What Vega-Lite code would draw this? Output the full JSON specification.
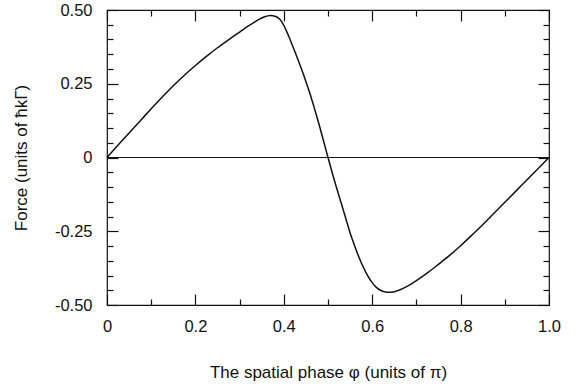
{
  "$schema": "https://vega.github.io/schema/vega-lite/v6.json",
  "width": 442,
  "height": 295,
  "autosize": "none",
  "padding": {"left": 107, "top": 10, "right": 28, "bottom": 83},
  "background": "white",
  "config": {
    "view": {"stroke": "#111", "strokeWidth": 1.2},
    "axis": {
      "labelFont": "Liberation Sans",
      "titleFont": "Liberation Sans",
      "labelFontSize": 16.5,
      "titleFontSize": 17,
      "titleFontWeight": "normal",
      "labelColor": "#111",
      "titleColor": "#111",
      "tickColor": "#111",
      "domain": false,
      "grid": false,
      "tickWidth": 1.2
    }
  },
  "datasets": {
    "zero": [{"phi": 0, "F": 0}, {"phi": 1, "F": 0}],
    "force": [
      {"phi": 0, "F": 0},
      {"phi": 0.025, "F": 0.042},
      {"phi": 0.05, "F": 0.083},
      {"phi": 0.075, "F": 0.124},
      {"phi": 0.1, "F": 0.165},
      {"phi": 0.125, "F": 0.205},
      {"phi": 0.15, "F": 0.243},
      {"phi": 0.175, "F": 0.279},
      {"phi": 0.2, "F": 0.312},
      {"phi": 0.225, "F": 0.343},
      {"phi": 0.25, "F": 0.372},
      {"phi": 0.275, "F": 0.399},
      {"phi": 0.3, "F": 0.425},
      {"phi": 0.32, "F": 0.446},
      {"phi": 0.34, "F": 0.465},
      {"phi": 0.355, "F": 0.476},
      {"phi": 0.37, "F": 0.481},
      {"phi": 0.38, "F": 0.479},
      {"phi": 0.39, "F": 0.47},
      {"phi": 0.4, "F": 0.448},
      {"phi": 0.41, "F": 0.415},
      {"phi": 0.42, "F": 0.378},
      {"phi": 0.43, "F": 0.34},
      {"phi": 0.44, "F": 0.3},
      {"phi": 0.45, "F": 0.258},
      {"phi": 0.46, "F": 0.213},
      {"phi": 0.47, "F": 0.163},
      {"phi": 0.48, "F": 0.111},
      {"phi": 0.49, "F": 0.056},
      {"phi": 0.5, "F": 0.0},
      {"phi": 0.51, "F": -0.054},
      {"phi": 0.52, "F": -0.106},
      {"phi": 0.53, "F": -0.155},
      {"phi": 0.54, "F": -0.205},
      {"phi": 0.55, "F": -0.256},
      {"phi": 0.56, "F": -0.298},
      {"phi": 0.57, "F": -0.338},
      {"phi": 0.58, "F": -0.372},
      {"phi": 0.59, "F": -0.401},
      {"phi": 0.6, "F": -0.424},
      {"phi": 0.61, "F": -0.441},
      {"phi": 0.62, "F": -0.451},
      {"phi": 0.63, "F": -0.456},
      {"phi": 0.64, "F": -0.457},
      {"phi": 0.65, "F": -0.455},
      {"phi": 0.66, "F": -0.45},
      {"phi": 0.68, "F": -0.436},
      {"phi": 0.7, "F": -0.417},
      {"phi": 0.725, "F": -0.391},
      {"phi": 0.75, "F": -0.362},
      {"phi": 0.775, "F": -0.332},
      {"phi": 0.8, "F": -0.299},
      {"phi": 0.825, "F": -0.264},
      {"phi": 0.85, "F": -0.228},
      {"phi": 0.875, "F": -0.19},
      {"phi": 0.9, "F": -0.152},
      {"phi": 0.925, "F": -0.114},
      {"phi": 0.95, "F": -0.076},
      {"phi": 0.975, "F": -0.038},
      {"phi": 1.0, "F": 0}
    ]
  },
  "layer": [
    {
      "data": {"name": "zero"},
      "mark": {"type": "line", "color": "#111", "strokeWidth": 1.2},
      "encoding": {
        "x": {
          "field": "phi", "type": "quantitative",
          "scale": {"domain": [0, 1], "nice": false, "zero": false},
          "axis": {
            "orient": "top", "title": null, "labels": false,
            "values": [0, 0.1, 0.2, 0.3, 0.4, 0.5, 0.6, 0.7, 0.8, 0.9, 1.0],
            "tickSize": {"condition": {"test": "abs(datum.value*5 - round(datum.value*5)) < 0.001", "value": -11}, "value": -6}
          }
        },
        "y": {
          "field": "F", "type": "quantitative",
          "scale": {"domain": [-0.5, 0.5], "nice": false, "zero": false},
          "axis": {
            "orient": "right", "title": null, "labels": false,
            "values": [-0.5, -0.45, -0.4, -0.35, -0.3, -0.25, -0.2, -0.15, -0.1, -0.05, 0, 0.05, 0.1, 0.15, 0.2, 0.25, 0.3, 0.35, 0.4, 0.45, 0.5],
            "tickSize": {"condition": {"test": "abs(datum.value*4 - round(datum.value*4)) < 0.001", "value": -11}, "value": -6}
          }
        }
      }
    },
    {
      "data": {"name": "force"},
      "mark": {"type": "line", "color": "#111", "strokeWidth": 1.5, "interpolate": "monotone"},
      "encoding": {
        "x": {
          "field": "phi", "type": "quantitative",
          "scale": {"domain": [0, 1], "nice": false, "zero": false},
          "axis": {
            "orient": "bottom",
            "title": "The spatial phase \u03c6 (units of \u03c0)",
            "titlePadding": 25,
            "values": [0, 0.1, 0.2, 0.3, 0.4, 0.5, 0.6, 0.7, 0.8, 0.9, 1.0],
            "labelExpr": "datum.value == 0 ? '0' : datum.value == 0.2 ? '0.2' : datum.value == 0.4 ? '0.4' : datum.value == 0.6 ? '0.6' : datum.value == 0.8 ? '0.8' : datum.value == 1 ? '1.0' : ''",
            "labelPadding": 24,
            "labelFlush": false,
            "labelOverlap": false,
            "tickSize": {"condition": {"test": "abs(datum.value*5 - round(datum.value*5)) < 0.001", "value": -11}, "value": -6}
          }
        },
        "y": {
          "field": "F", "type": "quantitative",
          "scale": {"domain": [-0.5, 0.5], "nice": false, "zero": false},
          "axis": {
            "orient": "left",
            "title": "Force (units of \u0127k\u0393)",
            "titlePadding": 24,
            "values": [-0.5, -0.45, -0.4, -0.35, -0.3, -0.25, -0.2, -0.15, -0.1, -0.05, 0, 0.05, 0.1, 0.15, 0.2, 0.25, 0.3, 0.35, 0.4, 0.45, 0.5],
            "labelExpr": "datum.value == 0.5 ? '0.50' : datum.value == 0.25 ? '0.25' : datum.value == 0 ? '0' : datum.value == -0.25 ? '-0.25' : datum.value == -0.5 ? '-0.50' : ''",
            "labelPadding": 26,
            "labelFlush": false,
            "labelOverlap": false,
            "tickSize": {"condition": {"test": "abs(datum.value*4 - round(datum.value*4)) < 0.001", "value": -11}, "value": -6}
          }
        }
      }
    }
  ],
  "resolve": {"axis": {"x": "independent", "y": "independent"}}
}
